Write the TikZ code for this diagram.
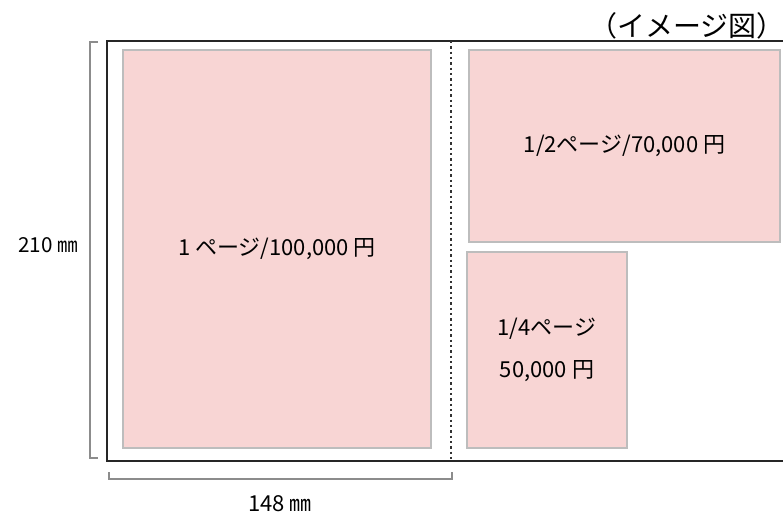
\documentclass[tikz,border=0pt]{standalone}
\usepackage{fontspec}
\setmainfont{Noto Sans CJK JP}
\definecolor{adpink}{HTML}{F8D5D4}
\definecolor{adedge}{HTML}{BDBDBD}
\tikzset{
	adbox/.style={draw=adedge, fill=adpink, line width=1.2pt, inner sep=0pt, align=center, font=\fontsize{16.5}{31}\selectfont},
	measure/.style={draw=gray!90, line width=2.2pt},
	sheet/.style={draw=black!85, line width=1.3pt}
}

\begin{document}
\begin{tikzpicture}[x=0.75pt, y=-0.75pt]
	\useasboundingbox (0, 0) rectangle (783, 517);
	\clip (0, 0) rectangle (783, 517);

	% sheet outline and fold
	\coordinate (TL) at (107, 41);
	\coordinate (BL) at (107, 461);
	\coordinate (TR) at (795, 41);
	\coordinate (BR) at (795, 461);
	\coordinate (FT) at (451, 41);
	\coordinate (FB) at (451, 461);
	\draw[sheet] (TR) -- (TL) -- (BL) -- (BR);
	\draw[black!80, line width=1.8pt, dash pattern=on 1.8pt off 2.2pt] (FT) -- (FB);

	% ad sizes
	\node[adbox, minimum width=231pt,   minimum height=298.5pt] (full)    at (277, 249)   {1 ページ/100,000 円};
	\node[adbox, minimum width=233.25pt, minimum height=144pt]  (half)    at (624.5, 146) {1/2ページ/70,000 円};
	\node[adbox, minimum width=120pt,   minimum height=147pt]   (quarter) at (547, 350)   {1/4ページ\\50,000 円};

	% dimensions
	\coordinate (HT) at (98, 42);
	\coordinate (HB) at (98, 458);
	\coordinate (WL) at (109, 472);
	\coordinate (WR) at (452, 472);
	\draw[measure] (HT) -- ++(-8, 0) -- ([xshift=-8*0.75pt]HB) -- (HB);
	\draw[measure] (WL) -- ++(0, 7) -- ([yshift=-7*0.75pt]WR) -- (WR);
	\node[font=\fontsize{15.5}{18}\selectfont] (height) at (48, 245)  {210 ㎜};
	\node[font=\fontsize{16.5}{18}\selectfont] (width)  at (280, 504) {148 ㎜};
	\node[font=\fontsize{21}{24}\selectfont]   (title)  at (687, 26)  {（イメージ図）};
\end{tikzpicture}
\end{document}
